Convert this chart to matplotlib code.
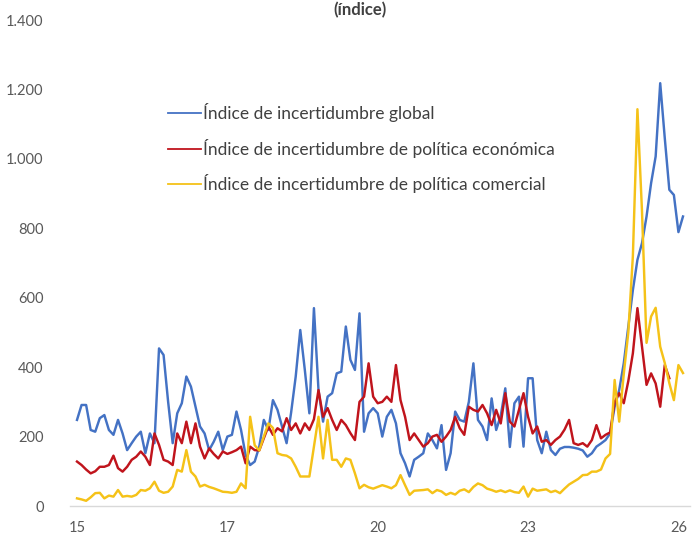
import matplotlib
matplotlib.use("Agg")
import matplotlib.pyplot as plt
from matplotlib.ticker import FuncFormatter, FixedLocator

# Monthly data, Jan 2015 onward (index values)
global_unc = [248, 291, 291, 219, 214, 253, 262, 219, 205, 248,
              209, 161, 181, 200, 214, 152, 209, 181, 454, 435,
              300, 181, 267, 296, 373, 344, 286, 229, 209, 161,
              185, 214, 161, 200, 205, 272, 219, 147, 118, 128,
              171, 248, 219, 305, 277, 229, 181, 270, 373, 507,
              392, 267, 570, 334, 243, 315, 325, 382, 387, 517,
              421, 392, 555, 214, 267, 282, 267, 200, 257, 277,
              238, 152, 123, 85, 133, 142, 152, 209, 190, 166,
              233, 104, 152, 272, 248, 243, 300, 411, 248, 229,
              190, 310, 219, 260, 339, 170, 296, 315, 171, 368,
              368, 190, 152, 214, 161, 147, 165, 170, 170, 168,
              165, 160, 142, 152, 171, 180, 190, 209, 286, 334,
              411, 517, 622, 709, 757, 834, 930, 1007, 1218, 1060,
              911, 896, 789, 834]

econ_policy = [128, 118, 105, 94, 100, 113, 113, 118, 145, 109,
               99, 113, 133, 142, 157, 142, 118, 209, 176, 133,
               128, 118, 209, 181, 243, 181, 238, 171, 137, 166,
               150, 137, 157, 150, 155, 161, 171, 123, 171, 161,
               160, 195, 229, 205, 224, 215, 253, 219, 238, 209,
               238, 219, 250, 334, 257, 282, 248, 219, 248, 233,
               210, 190, 300, 315, 411, 315, 296, 300, 315, 300,
               406, 305, 257, 190, 209, 190, 171, 181, 200, 205,
               185, 200, 219, 257, 224, 205, 286, 277, 272, 291,
               267, 233, 277, 238, 325, 243, 229, 277, 325, 257,
               209, 229, 185, 190, 176, 190, 200, 220, 248, 181,
               176, 181, 171, 190, 233, 195, 205, 212, 300, 325,
               296, 360, 440, 570, 460, 349, 382, 353, 286, 406,
               368]

trade_policy = [22, 19, 15, 25, 37, 38, 22, 30, 27, 46,
                27, 29, 27, 32, 46, 44, 51, 70, 44, 38,
                41, 56, 104, 99, 161, 99, 85, 56, 61, 55,
                51, 46, 41, 40, 38, 41, 65, 51, 257, 175,
                160, 200, 238, 225, 152, 147, 145, 137, 113, 85,
                85, 85, 170, 257, 137, 248, 133, 133, 113, 137,
                133, 94, 51, 61, 54, 50, 55, 60, 56, 51,
                60, 89, 60, 32, 44, 45, 46, 48, 37, 46,
                42, 32, 38, 33, 44, 48, 40, 55, 65, 60,
                50, 46, 41, 45, 40, 45, 40, 38, 56, 27,
                50, 44, 46, 48, 40, 44, 37, 50, 62, 70,
                78, 89, 90, 99, 99, 105, 137, 150, 363, 243,
                380, 500, 720, 1143, 850, 470, 546, 571, 459, 412,
                354, 305, 406, 383]

series_labels = ["Índice de incertidumbre global",
                 "Índice de incertidumbre de política económica",
                 "Índice de incertidumbre de política comercial"]
x_tick_pos = [0, 33, 66, 99, 132]
x_tick_labels = ["15", "17", "20", "23", "26"]
y_ticks = [0, 200, 400, 600, 800, 1000, 1200, 1400]

plt.rcParams['font.family'] = ['Lato', 'DejaVu Sans']

fig = plt.figure(figsize=(7.0, 5.36), dpi=100)
ax = fig.add_axes([70/700, 30/536, 620/700, 486/536])

colors = ["#4472C4", "#C0141C", "#F5C218"]
for data, lab, c in zip([global_unc, econ_policy, trade_policy], series_labels, colors):
    ax.plot(range(len(data)), data, color=c, lw=1.75, label=lab, solid_joinstyle='round')

ax.set_xlim(-7/4.55, 133 + 7/4.55)
ax.set_ylim(0, 1400)
ax.yaxis.set_major_locator(FixedLocator(y_ticks))
ax.yaxis.set_major_formatter(FuncFormatter(lambda v, p: f"{int(v):,}".replace(",", ".")))
ax.set_xticks(x_tick_pos)
ax.set_xticklabels(x_tick_labels)

for s in ["top", "right", "left"]:
    ax.spines[s].set_visible(False)
ax.spines["bottom"].set_color("#d9d9d9")
ax.spines["bottom"].set_linewidth(1.0)
ax.tick_params(axis='y', length=0, pad=19, labelsize=10.5, labelcolor="#595959")
ax.tick_params(axis='x', length=0, pad=11, labelsize=10.5, labelcolor="#595959")

leg = ax.legend(loc="upper left", bbox_to_anchor=(0.158, 0.829), frameon=False,
                fontsize=12.5, handlelength=1.9, handletextpad=0.1,
                labelspacing=0.95, borderpad=0, borderaxespad=0)
for t in leg.get_texts():
    t.set_color("#404040")
for h in leg.get_lines():
    h.set_linewidth(1.3)

fig.text(0.514, 0.982, "(índice)", ha="center", va="center",
         fontsize=12, fontweight="bold", color="#404040")

fig.savefig("out.png", dpi=100)
